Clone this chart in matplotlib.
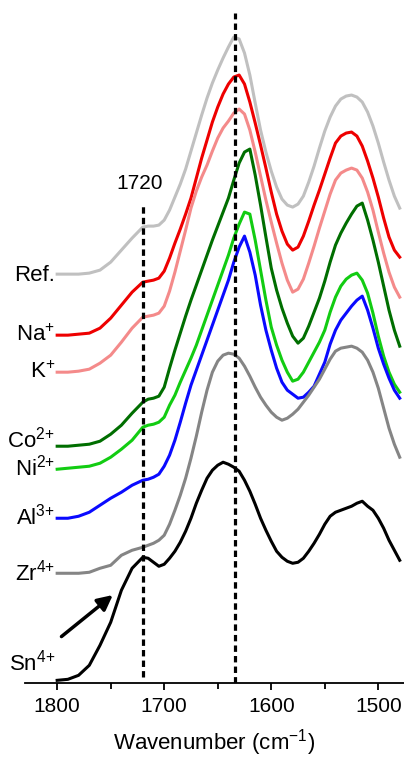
import matplotlib.pyplot as plt
from matplotlib.ticker import MultipleLocator

plt.rcParams['font.family'] = ['Liberation Sans', 'DejaVu Sans']
plt.rcParams['mathtext.fontset'] = 'custom'
plt.rcParams['mathtext.rm'] = 'Liberation Sans'
plt.rcParams['mathtext.it'] = 'Liberation Sans:italic'

# wavenumber grid (cm-1)
wavenumber = [1800, 1790, 1780, 1770, 1760, 1750, 1740, 1730, 1720,
              1715, 1710, 1705, 1700, 1695, 1690, 1685, 1680, 1675, 1670,
              1665, 1660, 1655, 1650, 1645, 1640, 1635, 1630, 1625, 1620,
              1615, 1610, 1605, 1600, 1595, 1590, 1585, 1580, 1575, 1570,
              1565, 1560, 1555, 1550, 1545, 1540, 1535, 1530, 1525, 1520,
              1515, 1510, 1505, 1500, 1495, 1490, 1485, 1480]

# offset absorbance, one list per sample
ref = [4.09, 4.09, 4.09, 4.10, 4.13, 4.21, 4.33, 4.45, 4.56,
       4.57, 4.57, 4.58, 4.63, 4.73, 4.86, 4.99, 5.14, 5.32, 5.50,
       5.68, 5.85, 6.00, 6.13, 6.25, 6.36, 6.46, 6.44, 6.30, 6.08,
       5.80, 5.53, 5.31, 5.12, 4.96, 4.84, 4.78, 4.76, 4.79, 4.87,
       5.01, 5.17, 5.35, 5.52, 5.66, 5.77, 5.84, 5.87, 5.88, 5.86,
       5.81, 5.71, 5.57, 5.40, 5.21, 5.03, 4.87, 4.75]
na = [3.48, 3.48, 3.49, 3.50, 3.55, 3.65, 3.78, 3.91, 4.01,
      4.02, 4.03, 4.05, 4.12, 4.25, 4.40, 4.54, 4.69, 4.85, 5.05,
      5.25, 5.43, 5.61, 5.76, 5.89, 5.99, 6.06, 6.08, 5.99, 5.81,
      5.60, 5.38, 5.15, 4.91, 4.69, 4.52, 4.39, 4.33, 4.36, 4.47,
      4.62, 4.78, 4.93, 5.09, 5.25, 5.40, 5.47, 5.50, 5.51, 5.47,
      5.37, 5.22, 5.05, 4.86, 4.65, 4.46, 4.33, 4.26]
k = [3.11, 3.11, 3.12, 3.14, 3.20, 3.28, 3.41, 3.55, 3.66,
     3.67, 3.68, 3.70, 3.77, 3.92, 4.11, 4.32, 4.53, 4.75, 4.92,
     5.06, 5.18, 5.32, 5.45, 5.55, 5.62, 5.70, 5.74, 5.69, 5.53,
     5.31, 5.07, 4.83, 4.61, 4.40, 4.20, 4.03, 3.91, 3.94, 4.04,
     4.20, 4.37, 4.55, 4.72, 4.89, 5.03, 5.10, 5.13, 5.15, 5.13,
     5.05, 4.91, 4.73, 4.51, 4.30, 4.11, 3.96, 3.86]
co = [2.37, 2.37, 2.38, 2.39, 2.42, 2.49, 2.58, 2.70, 2.81,
      2.84, 2.85, 2.87, 2.96, 3.15, 3.33, 3.50, 3.67, 3.83, 3.98,
      4.13, 4.28, 4.43, 4.57, 4.71, 4.85, 5.03, 5.20, 5.31, 5.34,
      5.08, 4.78, 4.46, 4.15, 3.93, 3.75, 3.60, 3.47, 3.40, 3.45,
      3.57, 3.71, 3.85, 4.02, 4.21, 4.38, 4.50, 4.60, 4.69, 4.77,
      4.80, 4.63, 4.43, 4.21, 3.97, 3.73, 3.53, 3.37]
ni = [2.14, 2.15, 2.16, 2.17, 2.20, 2.26, 2.34, 2.43, 2.56,
      2.58, 2.59, 2.61, 2.66, 2.78, 2.88, 3.01, 3.13, 3.25, 3.38,
      3.53, 3.68, 3.83, 3.98, 4.13, 4.28, 4.45, 4.59, 4.71, 4.69,
      4.43, 4.13, 3.83, 3.56, 3.38, 3.23, 3.11, 3.02, 3.04, 3.11,
      3.21, 3.31, 3.41, 3.53, 3.71, 3.86, 3.97, 4.04, 4.08, 4.10,
      4.03, 3.90, 3.70, 3.47, 3.27, 3.11, 2.99, 2.91]
al = [1.65, 1.65, 1.67, 1.71, 1.78, 1.85, 1.91, 1.98, 2.03,
      2.04, 2.06, 2.09, 2.17, 2.28, 2.43, 2.61, 2.80, 2.98, 3.13,
      3.28, 3.43, 3.58, 3.73, 3.88, 4.03, 4.21, 4.36, 4.47, 4.31,
      4.08, 3.78, 3.53, 3.33, 3.15, 3.01, 2.93, 2.89, 2.85, 2.86,
      2.91, 2.97, 3.09, 3.21, 3.39, 3.53, 3.63, 3.70, 3.77, 3.83,
      3.87, 3.73, 3.55, 3.35, 3.19, 3.05, 2.93, 2.85]
zr = [1.10, 1.10, 1.10, 1.11, 1.15, 1.18, 1.28, 1.33, 1.36,
      1.38, 1.40, 1.43, 1.48, 1.59, 1.73, 1.88, 2.05, 2.25, 2.47,
      2.71, 2.93, 3.11, 3.22, 3.28, 3.30, 3.29, 3.25, 3.17, 3.07,
      2.96, 2.86, 2.78, 2.71, 2.66, 2.63, 2.65, 2.69, 2.74, 2.81,
      2.88, 2.96, 3.04, 3.14, 3.24, 3.32, 3.35, 3.36, 3.37, 3.35,
      3.31, 3.23, 3.11, 2.95, 2.75, 2.55, 2.39, 2.26]
sn = [0.03, 0.04, 0.08, 0.18, 0.38, 0.61, 0.93, 1.15, 1.26,
      1.25, 1.21, 1.17, 1.19, 1.25, 1.32, 1.41, 1.52, 1.65, 1.80,
      1.93, 2.05, 2.13, 2.18, 2.21, 2.19, 2.16, 2.12, 2.03, 1.92,
      1.79, 1.65, 1.53, 1.42, 1.32, 1.26, 1.22, 1.20, 1.21, 1.25,
      1.32, 1.40, 1.49, 1.59, 1.67, 1.71, 1.73, 1.75, 1.77, 1.80,
      1.82, 1.77, 1.73, 1.65, 1.55, 1.43, 1.33, 1.23]

series = [ref, na, k, co, ni, al, zr, sn]
labels = ['Ref.', 'Na$^{{+}}$', 'K$^{{+}}$', 'Co$^{2{+}}$', 'Ni$^{2{+}}$',
          'Al$^{3{+}}$', 'Zr$^{4{+}}$', 'Sn$^{4{+}}$']
colors = ['#c0c0c0', '#ee0000', '#f48a8a', '#006e00', '#12cc12',
          '#0a0aff', '#858585', '#000000']
label_y = [4.02, 3.42, 3.05, 2.36, 2.08, 1.59, 1.03, 0.13]

fig = plt.figure(figsize=(4.04, 7.59), dpi=100)
ax = fig.add_axes([0.062, 0.0997, 0.938, 0.9003])

for y, c in zip(series, colors):
    ax.plot(wavenumber, y, color=c, lw=2.2, solid_joinstyle='round')

for lab, ly in zip(labels, label_y):
    ax.text(1802, ly, lab, ha='right', va='baseline', fontsize=16)

# marker lines
ax.plot([1720, 1720], [0.06, 4.78], color='black', lw=2.3, ls=(0, (2, 1.3)))
ax.plot([1634, 1634], [0.0, 6.70], color='black', lw=2.3, ls=(0, (2, 1.3)))
ax.text(1723, 5.0, '1720', ha='center', va='center', fontsize=15)

ax.annotate('', xy=(1746, 0.90), xytext=(1798, 0.45),
            arrowprops=dict(arrowstyle='-|>,head_width=0.45,head_length=0.9',
                            color='black', lw=2.5))

ax.set_xlim(1830, 1476)
ax.set_ylim(0, 6.83)
for s in ['left', 'right', 'top']:
    ax.spines[s].set_visible(False)
ax.spines['bottom'].set_linewidth(1.3)
ax.set_yticks([])
ax.xaxis.set_major_locator(MultipleLocator(100))
ax.xaxis.set_minor_locator(MultipleLocator(50))
ax.tick_params(axis='x', which='major', length=5, width=1.3, labelsize=15, pad=5)
ax.tick_params(axis='x', which='minor', length=4, width=1.3)
ax.set_xlabel('Wavenumber (cm$^{-1}$)', fontsize=16, labelpad=8)

plt.savefig('out.png', dpi=100)
